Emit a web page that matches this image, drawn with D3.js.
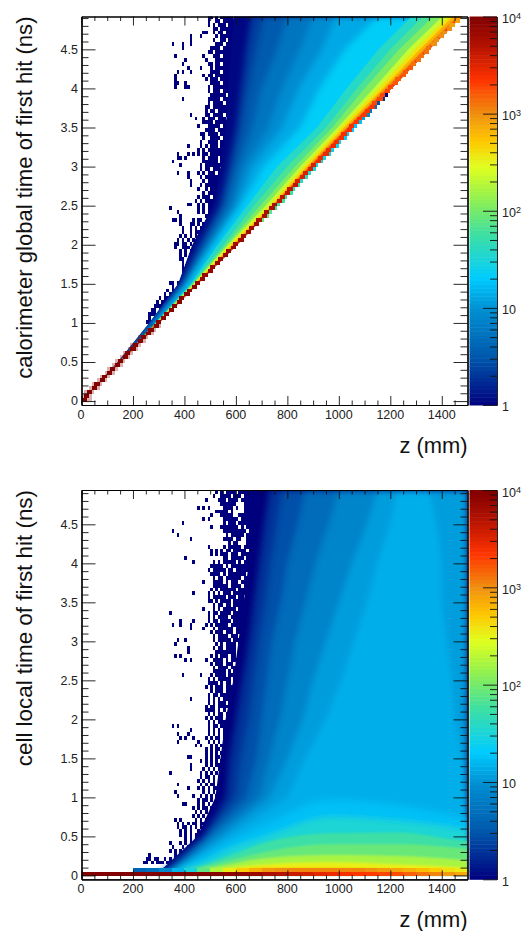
<!DOCTYPE html>
<html>
<head>
<meta charset="utf-8">
<script src="https://cdn.jsdelivr.net/npm/d3@7"></script>
<style>
body { margin: 0; background: #fff; }
svg { display: block; font-family: "Liberation Sans", sans-serif; }
</style>
</head>
<body>
<div id="chart"></div>
<script>
// colour palette, log10(count) -> colour
const paletteLog = [0, 0.5, 1, 1.31, 1.77, 2.12, 2.45, 2.72, 3, 3.35, 3.72, 4];
const paletteColors = ["#00007f", "#0058ac", "#0092d4", "#00ccff", "#40e0a0", "#90f050", "#e0ff20", "#ffc800", "#f09010", "#ff3300", "#b01000", "#7f0000"];

const zMajor = [0, 200, 400, 600, 800, 1000, 1200, 1400];
const zMinor = [50, 100, 150, 250, 300, 350, 450, 500, 550, 650, 700, 750, 850, 900, 950, 1050, 1100, 1150, 1250, 1300, 1350, 1450];
const tMajor = [0, 0.5, 1, 1.5, 2, 2.5, 3, 3.5, 4, 4.5];
const tMinor = [0.1, 0.2, 0.3, 0.4, 0.6, 0.7, 0.8, 0.9, 1.1, 1.2, 1.3, 1.4, 1.6, 1.7, 1.8, 1.9, 2.1, 2.2, 2.3, 2.4, 2.6, 2.7, 2.8, 2.9, 3.1, 3.2, 3.3, 3.4, 3.6, 3.7, 3.8, 3.9, 4.1, 4.2, 4.3, 4.4, 4.6, 4.7, 4.8, 4.9];
const barMajor = [1, 10, 100, 1000, 10000];
const barMinor = [2, 3, 4, 5, 6, 7, 8, 9, 20, 30, 40, 50, 60, 70, 80, 90, 200, 300, 400, 500, 600, 700, 800, 900, 2000, 3000, 4000, 5000, 6000, 7000, 8000, 9000];

// --- upper plot: z where the count climbs over each level, at each time
const globalTimes = [0, 0.5, 1, 1.5, 2, 2.5, 3, 3.5, 4, 4.5, 4.93];
const globalEdge = [0, 153, 303, 453, 606, 753, 903, 1053, 1206, 1353, 1482];
const globalLevels = [1, 2, 3, 5, 8, 12, 20, 35, 60, 100, 200, 350, 600, 1000, 2000];
const globalLeft = [
    [0, 140, 262, 375, 430, 510, 540, 560, 570, 580, 590],
    [0, 142, 268, 385, 455, 535, 570, 600, 620, 640, 660],
    [0, 143, 271, 390, 470, 550, 590, 625, 650, 680, 710],
    [0, 144, 274, 395, 486, 570, 610, 665, 700, 760, 800],
    [0, 145, 277, 403, 497, 590, 635, 725, 780, 850, 900],
    [0, 145, 280, 410, 506, 605, 665, 780, 845, 935, 990],
    [0, 146, 283, 417, 515, 620, 710, 850, 925, 1025, 1155],
    [0, 146, 286, 425, 530, 645, 760, 915, 1030, 1155, 1285],
    [0, 147, 288, 430, 552, 670, 800, 950, 1070, 1200, 1330],
    [0, 147, 290, 433, 562, 695, 830, 975, 1100, 1235, 1370],
    [0, 148, 291, 436, 570, 715, 850, 995, 1135, 1270, 1405],
    [0, 148, 292, 440, 577, 730, 865, 1008, 1155, 1295, 1430],
    [0, 148, 293, 442, 585, 738, 875, 1020, 1170, 1315, 1445],
    [0, 149, 295, 444, 592, 742, 882, 1030, 1180, 1330, 1460],
    [0, 149, 296, 446, 598, 745, 888, 1036, 1190, 1340, 1470]
];

// the ridge: first 10 mm bin of the peak in each 0.05 ns row, its count, and the faint cell to its right
const ridgeCol = [0, 1, 2, 4, 5, 7, 8, 10, 11, 13, 14, 16, 17, 19, 20, 22, 23, 25, 26, 28, 29, 31, 32, 34, 35, 37, 38, 40, 41, 43, 44, 46, 47, 49, 50, 52, 53, 55, 56, 58, 59, 61, 62, 64, 65, 67, 68, 70, 71, 73, 74, 76, 77, 79, 80, 82, 83, 85, 86, 88, 89, 91, 92, 94, 95, 97, 98, 100, 101, 103, 104, 106, 107, 109, 110, 112, 113, 115, 116, 118, 119, 121, 122, 124, 125, 127, 128, 130, 131, 133, 134, 136, 137, 139, 140, 142, 143, 145, 146];
const ridgePeak = [9500, 9500, 9500, 9500, 9500, 9500, 9500, 9500, 9500, 9500, 9000, 9000, 9000, 9000, 9000, 9000, 9000, 9000, 9000, 9000, 8500, 8500, 8500, 8500, 8500, 8500, 8500, 8500, 8500, 8500, 7500, 7500, 7500, 7500, 7500, 7500, 7500, 7500, 7500, 7500, 6500, 6500, 6500, 6500, 6500, 6500, 5500, 5500, 5500, 5500, 5500, 4500, 4500, 4500, 4500, 4500, 3500, 3500, 3500, 3500, 3500, 2800, 2800, 2800, 2800, 2800, 2500, 2500, 2500, 2500, 2500, 2200, 2200, 2200, 2200, 2200, 1900, 1900, 1900, 1900, 1900, 1600, 1600, 1600, 1600, 1600, 1300, 1300, 1300, 1300, 1300, 1000, 1000, 1000, 1000, 1000, 800, 800, 800];
const ridgeFaint = [0, 0, 0, 0, 0, 0, 0, 0, 0, 0, 0, 0, 0, 0, 0, 0, 0, 0, 0, 0, 0, 0, 0, 0, 0, 0, 0, 0, 0, 0, 0, 0, 0, 0, 0, 0, 0, 0, 0, 0, 0, 0, 0, 0, 0, 0, 90, 80, 70, 60, 60, 60, 60, 50, 50, 50, 40, 40, 40, 30, 30, 30, 30, 30, 25, 25, 25, 20, 20, 20, 18, 18, 12, 8, 6, 5, 3, 2, 1];

// single occupied bins left of the solid body, one string per row, from row 98 downward
const globalFringeStart = 98, globalFringeCol = 34;
const globalFringe = [
    "...............11.1.11111", "...............1..11.1111", "...............1.1.111.11", ".................11.11111",
    ".............11..1.11.111", "........1...1.....1.11111", "........1........1..11.11", ".1...1..1.........111.111",
    ".....1..........1111.1111", "...............11.1111111", "..1..........1...111.1111", "......1.......1...1111111",
    ".....1.........11.11.1111", ".......1....1...1.1111111", "...1.1..1.......1111.1111", "..1..........1.11.1111111",
    "..1...........1.111.11111", "..11..1.........1111.1111", "..1...11.......1.11111111", "...............1.111.1111",
    "................111111.11", ".....1.........11111.1111", "...............1.1111.111", "..............11.11111111",
    "..............1.11.111111", "........1.....11.1111.111", "..........1..1.111.111.11", ".............1111.1111111",
    "...........1...11111.1111", "..............1111.111111", "............11.1111.11111", ".............1..1111.1111",
    "............1..1111.11111", ".......1....1.1.111.11111", "...........1.1.111111.111", "...1...1.1.1.11.111111111",
    "...11.1......1.1111.11111", ".1...........111111.11111", "....1.......1.1111111.111", "............1.11.111.1111",
    "...1...1...1.1.111.111111", ".......1....1.11111111111", "........1....1.1111111111", "........1...1.11111.11111",
    "...........1..1.111111111", ".............1.1111111111", "...........1.111.11111111", "..........1.1.11111.11111",
    ".......11..1.1.1111111111", "1..........1.1.1111111111", "...1.......1.1.1111111111", "....1.........11111111111",
    ".11.1....1.11..1111111111", "....1...11.1.111111111111", ".....1..1.1.1.11111111111", ".....1..1.11.111111111111",
    "....1.1.1.1.1111111111111", "...1.1.1.1.11.11111", "..11.11.1.1.1.111", "..1..111.11.11",
    "....1.1.1.111", "....1.1.1.1", "....11..11.1", ".....1.11.1", ".....1..11"
];
const globalFringeLowStart = 33, globalFringeLowCol = 20;
const globalFringeLow = [
    "...................1.11", "...................1.11", "...................11", "..............11.1.11",
    "...............1.1.11", ".............1.111", "............1.11", "..........1.111",
    ".........1.111", "........1111", ".......11.1", "......111", "......1.1", ".....111"
];

// --- lower plot: low counts as z(t) edges, high counts as t(z) edges
const localTimes = [0.05, 0.1, 0.5, 1, 1.5, 2, 2.5, 3, 3.5, 4, 4.5, 4.94];
const localLevels = [1, 2, 3, 5, 8, 12, 15];
const localLeft = [
    [280, 320, 450, 520, 540, 560, 590, 610, 630, 650, 660, 670],
    [300, 335, 470, 560, 575, 600, 625, 650, 670, 690, 710, 730],
    [310, 345, 480, 600, 620, 650, 670, 690, 715, 735, 760, 780],
    [330, 360, 490, 640, 680, 700, 720, 740, 775, 800, 840, 870],
    [345, 370, 510, 690, 730, 770, 800, 830, 870, 910, 960, 1000],
    [360, 380, 540, 730, 800, 860, 900, 950, 1000, 1050, 1110, 1150],
    [370, 390, 570, 800, 870, 950, 1010, 1060, 1110, 1150, 1200, 1230]
];
const localRight = [1500, 1500, 1500, 1500, 1480, 1450, 1440, 1420, 1400, 1400, 1380, 1350];

const localZ = [190, 250, 350, 470, 590, 713, 970, 1231, 1470, 1500];
const localUpper = [16, 30, 50, 80, 150, 300, 500];
const localTop = [
    [0, 0.02, 0.06, 0.23, 0.45, 0.65, 0.97, 0.9, 0.75, 0.72],
    [0, 0, 0.05, 0.17, 0.36, 0.5, 0.75, 0.7, 0.6, 0.58],
    [0, 0, 0.04, 0.13, 0.27, 0.42, 0.54, 0.55, 0.45, 0.44],
    [0, 0, 0.02, 0.1, 0.2, 0.3, 0.4, 0.4, 0.35, 0.34],
    [0, 0, 0, 0.08, 0.15, 0.22, 0.26, 0.25, 0.2, 0.19],
    [0, 0, 0, 0.05, 0.1, 0.14, 0.17, 0.14, 0.1, 0.09],
    [0, 0, 0, 0.04, 0.07, 0.1, 0.1, 0.08, 0.05, 0.05]
];
// two bottom rows, one count per 50 mm
const localRow0 = [9500, 9500, 9500, 9500, 9500, 9500, 9500, 9500, 9500, 9500, 9000, 8500, 8000, 7000, 5500, 5000, 4000, 3500, 3000, 2700, 2400, 2200, 2100, 1900, 1800, 1500, 1300, 1100, 900, 750];
const localRow1 = [0, 0, 0, 0, 4, 5, 8, 15, 30, 80, 180, 350, 500, 700, 900, 1000, 1100, 1100, 1100, 1100, 1100, 1100, 1000, 900, 800, 700, 600, 500, 400, 350];

const localFringeStart = 98, localFringeCol = 34;
const localFringe = [
    "..................1.1.1111.11111111", ".................1..1111.111.11111", "..............1....111.1111.1111111", "....................111111...111111",
    "...........1.1.1.....1111.1..111111", "..................11111.1....111111", "................1...11111..11111111", ".............1.1.....111111.1111111",
    ".....1...............1.111.11111111", "................1...1111111.1.11111", ".1...................111111111.1111", "...1..................1.11111.11111",
    "........1............1111.11..11111", ".......................1.11...11111", "...............1.....1.11111.111111", "................1.1.1.11.11111.1111",
    "................1.1.111.111.1111111", "......1..............11.11111.11111", ".........1.......1.1.11111.1.111111", "................11111.1.1111111.111",
    "...............1.11111.11.111111111", "................1111.1.1111111.1111", ".................1.11.111111.111111", ".............1...1111.1.111.1111111",
    ".................111111.1111.111111", "................1.1.111111.11111111", ".........1.....1.1.1.111.1111111111", "...............1.11111.111.11.11111",
    "...............11.1.1111.111111.111", ".................1.11.11.1111111111", ".............1...1.1.11111.11111111", "1..............1.11.1111.111111.111",
    "...............1.1.1111.1111111.111", "....1....1.....1.11.1111.1111111111", ".1..1...1.....1.1.11111.11111111111", "........1....1...1.111111.111111111",
    "................1.111.111.111.11111", ".................1.1111.111.1.11111", "...1..1..........1.11111.1111.11111", "..1...............1.1.1111.11111111",
    ".......1.........1.11.1111.11111111", ".......1..........11111111.1.111111", "..1.1...........1.1.111.11.11111111", "......1.1.....1..1111.1.1111.111111",
    "................1.111.111.1.1111111", ".................1.1111.111.1111111", ".................11111.1.11.11111111", ".....1......1...1.1111.111.1.111111",
    "...............1.1.11111.111111.111", "...............1111.1.11.1111111111", "..............1.1.111.111.111111111", "................1.111.111111.111111",
    "...............1.11.1111111.1111111", "........1......1.1.1.111.1111111111", "...............1.1.111.11111.111111", "..............1.11.11111.1111111111",
    "..............1111.1.1.111111111111", "...............1.1.11.1111111111111", "..............1.1.111.111.111111111", "...............1.1.1111.11111111111",
    ".1.1...........1.11.111.11111111111", "........1......1.1.1.11.11111111111", "...1...1.......1.1.1.1.111111111111", "....1.1..1....1.1.11.1.111111111111",
    "...1.......1...1.1.1.11111111111111", "..........1.1...1.1.11.111111111111", "..............1.1.11.11111111111111", "..............1.1.1.1.1111111111111",
    ".......11.....1.1.11.11111111111111", "............1.1.1.1.111111111111111", "........1.....1.1.11.11111111111111", "........1....1.1.1.1111111111111111",
    "1...........1.1.1.1.111111111111111", "............1.11.1.1111111111111111", "...........1.1.1.1.1111111111111111", "...1........1.1.11.11111111111111",
    ".......1...1.1.1.11111111111111", "..1..........1.1.1.1.1111111111", "...1.....1..1.1.1.1111111111111", "...........1.11.1.111111111111",
    ".....11....1.1.1.1.111111111111", ".........1.1.11.1.11111111111", "..........1.1.1.11.1111111111", ".........1.1.1.1.1.111111111",
    "..1.1.....1.1.1.11.1111111111", "...1.1.1.11.11.1.1111111111", "...1.11.1.1.1.1.1111111111", "....1.1.1..1.1.11.11111111"
];
const localFringeLowStart = 10, localFringeLowCol = 24;
const localFringeLow = [
    "..............1.1.1.111.1.1111", "................1.1.11.1.11111", "..........1...1.1.1.1.11.11111", "...........1...1.1.111.111111",
    "..........1.1.1.1.1.11.1111111", "..1.........1.1.111.1.11111111", ".11.11..1.1.11.1.1111111111", "11.1.111.11.111.11111111"
];

const W = 525, H = 931;
const svg = d3.select("#chart").append("svg").attr("width", W).attr("height", H);

const x = d3.scaleLinear().domain([0, 1500]).range([81.5, 467.5]);
const color = d3.scaleLinear().domain(paletteLog).range(paletteColors).interpolate(d3.interpolateRgb);
const countColor = c => color(Math.log10(c));

// soft edges between the count bands
const defs = svg.append("defs");
[["soft1", 0.7], ["soft2", 1.3], ["soft3", 3]].forEach(f => {
    defs.append("filter").attr("id", f[0])
        .attr("x", "-5%").attr("y", "-5%").attr("width", "110%").attr("height", "110%")
      .append("feGaussianBlur").attr("stdDeviation", f[1]);
});

// occupied bins from the row strings
function fringeCells(rows, startRow, startCol) {
    let cells = [];
    rows.forEach((s, i) => {
        s.split("").forEach((ch, j) => {
            if (ch !== ".") cells.push({ row: startRow - i, col: startCol + j, count: +ch });
        });
    });
    return cells;
}

function drawFrame(o) {
    let y = o.y, top = o.top, bottom = o.bottom;
    let g = svg.append("g");

    // ticks, mirrored on all four sides
    const noLabel = a => a.tickFormat("").tickSizeOuter(0);
    g.append("g").attr("transform", `translate(0,${bottom})`).call(noLabel(d3.axisTop(x).tickValues(zMajor).tickSize(9)));
    g.append("g").attr("transform", `translate(0,${bottom})`).call(noLabel(d3.axisTop(x).tickValues(zMinor).tickSize(4.5)));
    g.append("g").attr("transform", `translate(0,${top})`).call(noLabel(d3.axisBottom(x).tickValues(zMajor).tickSize(9)));
    g.append("g").attr("transform", `translate(0,${top})`).call(noLabel(d3.axisBottom(x).tickValues(zMinor).tickSize(4.5)));
    g.append("g").attr("transform", `translate(${x(0)},0)`).call(noLabel(d3.axisRight(y).tickValues(tMajor).tickSize(14)));
    g.append("g").attr("transform", `translate(${x(0)},0)`).call(noLabel(d3.axisRight(y).tickValues(tMinor).tickSize(7)));
    g.append("g").attr("transform", `translate(${x(1500)},0)`).call(noLabel(d3.axisLeft(y).tickValues(tMajor).tickSize(14)));
    g.append("g").attr("transform", `translate(${x(1500)},0)`).call(noLabel(d3.axisLeft(y).tickValues(tMinor).tickSize(7)));
    g.selectAll("line").attr("stroke", "#111").attr("stroke-width", 0.9);
    g.selectAll(".domain").attr("stroke", "#000").attr("stroke-width", 1.2);

    // tick labels
    svg.append("g").selectAll("text").data(zMajor).join("text")
        .attr("x", d => x(d) - (d === 0 ? 0.5 : 0))
        .attr("y", bottom + 14)
        .attr("text-anchor", "middle")
        .attr("font-size", 12.5)
        .attr("fill", "#222")
        .text(d => d);
    svg.append("g").selectAll("text").data(tMajor).join("text")
        .attr("x", 78)
        .attr("y", d => y(d))
        .attr("dy", "0.35em")
        .attr("text-anchor", "end")
        .attr("font-size", 12.5)
        .attr("fill", "#222")
        .text(d => d);

    svg.append("text")
        .attr("x", 467.5)
        .attr("y", bottom + 48)
        .attr("text-anchor", "end")
        .attr("font-size", 21.9)
        .attr("fill", "#111")
        .text("z (mm)");
    svg.append("text")
        .attr("transform", `translate(32,${top}) rotate(-90)`)
        .attr("text-anchor", "end")
        .attr("font-size", o.titleSize)
        .attr("fill", "#111")
        .text(o.title);

    // colour bar
    let bar = d3.scaleLog().domain([1, 10000]).range([bottom, top]);
    let barX = 469.5, barW = 27.5, steps = d3.range(0, 100).map(i => i * 0.04);
    svg.append("g").selectAll("rect").data(steps).join("rect")
        .attr("x", barX)
        .attr("width", barW)
        .attr("y", d => bar(Math.pow(10, d + 0.04)))
        .attr("height", d => bar(Math.pow(10, d)) - bar(Math.pow(10, d + 0.04)) + 0.5)
        .attr("fill", d => color(d + 0.02));
    let b = svg.append("g");
    b.append("g").attr("transform", `translate(${barX + barW},0)`).call(d3.axisLeft(bar).tickValues(barMajor).tickSize(14).tickFormat("").tickSizeOuter(0));
    b.append("g").attr("transform", `translate(${barX + barW},0)`).call(d3.axisLeft(bar).tickValues(barMinor).tickSize(7).tickFormat("").tickSizeOuter(0));
    b.selectAll("line").attr("stroke", "#111").attr("stroke-width", 0.9);
    b.selectAll(".domain").attr("stroke", "#222");

    let labels = svg.append("g").selectAll("text").data(barMajor).join("text")
        .attr("x", 502)
        .attr("y", d => bar(d) + (d === 10000 ? 2.5 : 2))
        .attr("dy", "0.35em")
        .attr("font-size", 12.5)
        .attr("fill", "#222");
    labels.append("tspan").text(d => d === 1 ? "1" : "10");
    labels.filter(d => d > 10).append("tspan")
        .attr("dy", "-0.45em")
        .attr("font-size", 9)
        .text(d => Math.log10(d));
}

function plotGroup(id, top, bottom) {
    svg.append("clipPath").attr("id", id).append("rect")
        .attr("x", x(0)).attr("y", top).attr("width", x(1500) - x(0)).attr("height", bottom - top);
    return svg.append("g").attr("clip-path", `url(#${id})`);
}

function drawCells(g, y, cells, opacity=1) {
    g.append("g").attr("shape-rendering", "crispEdges").attr("opacity", opacity).selectAll("rect").data(cells).join("rect")
        .attr("x", d => x(d.col * 10))
        .attr("width", d => x((d.col + (d.span || 1)) * 10) - x(d.col * 10))
        .attr("y", d => y((d.row + 1) * 0.05 - 0.01))
        .attr("height", d => y(d.row * 0.05 - 0.01) - y((d.row + 1) * 0.05 - 0.01))
        .attr("fill", d => countColor(d.count));
}

// upper plot
function drawGlobal() {
    let top = 16.5, bottom = 405;
    let y = d3.scaleLinear().domain([-0.05, 4.92]).range([bottom, top]);
    let g = plotGroup("clip-global", top, bottom);

    drawCells(g, y, fringeCells(globalFringe, globalFringeStart, globalFringeCol)
        .concat(fringeCells(globalFringeLow, globalFringeLowStart, globalFringeLowCol)));

    let band = d3.area().y((d, i) => y(globalTimes[i])).x0(d => x(d)).x1((d, i) => x(globalEdge[i]));
    const fillLevel = d => countColor(globalLevels[globalLeft.indexOf(d)] * 1.1);

    // keep the soft bands inside the ridge edge
    svg.append("clipPath").attr("id", "clip-fan").append("path")
        .attr("d", band(globalLeft[0]));
    let fan = g.append("g").attr("clip-path", "url(#clip-fan)");
    fan.append("path").datum(globalLeft[0]).attr("d", band).attr("fill", fillLevel);
    fan.append("g").attr("filter", "url(#soft3)").selectAll("path").data(globalLeft.slice(1, 7)).join("path")
        .attr("d", band).attr("fill", fillLevel);
    fan.append("g").attr("filter", "url(#soft1)").selectAll("path").data(globalLeft.slice(7)).join("path")
        .attr("d", band).attr("fill", fillLevel);

    // peak row by row, with a pale halo where the peak is darkest
    let ridge = ridgeCol.map((c, r) => ({ row: r, col: c, span: 2, count: ridgePeak[r] }));
    let faint = ridgeCol.map((c, r) => ({ row: r, col: c + 2, count: ridgeFaint[r] })).filter(d => d.count > 0);
    let halo = ridgeCol.slice(0, 20).map((c, r) => ({ row: r, col: Math.max(c - 1, 0), span: 4, count: ridgePeak[r] }));
    drawCells(g, y, halo, 0.3);
    drawCells(g, y, faint.concat(ridge));

    drawFrame({ y: y, top: top, bottom: bottom, titleSize: 22.1, title: "calorimeter global time of first hit (ns)" });
}

// lower plot
function drawLocal() {
    let top = 490, bottom = 879.3;
    let y = d3.scaleLinear().domain([-0.05, 4.94]).range([bottom, top]);
    let g = plotGroup("clip-local", top, y(-0.01));

    drawCells(g, y, fringeCells(localFringe, localFringeStart, localFringeCol)
        .concat(fringeCells(localFringeLow, localFringeLowStart, localFringeLowCol)));

    let band = d3.area().y((d, i) => y(localTimes[i])).x0(d => x(d));
    let bandPath = d => {
        let last = localLeft.indexOf(d) === localLevels.length - 1;
        return band.x1((v, i) => x(last ? localRight[i] : 1500))(d);
    };
    const fillLevel = d => countColor(localLevels[localLeft.indexOf(d)] * 0.95);
    g.append("path").datum(localLeft[0]).attr("d", bandPath).attr("fill", fillLevel);
    g.append("g").attr("filter", "url(#soft3)").selectAll("path").data(localLeft.slice(1)).join("path")
        .attr("d", bandPath).attr("fill", fillLevel);

    let hill = d3.area().x((d, i) => x(localZ[i])).y0(y(0)).y1(d => y(d)).curve(d3.curveMonotoneX);
    g.append("g").attr("filter", "url(#soft3)").selectAll("path").data(localTop.slice(0, 2)).join("path")
        .attr("d", hill)
        .attr("fill", d => countColor(localUpper[localTop.indexOf(d)] * 1.1));
    g.append("g").attr("filter", "url(#soft2)").selectAll("path").data(localTop.slice(2)).join("path")
        .attr("d", hill)
        .attr("fill", d => countColor(localUpper[localTop.indexOf(d)] * 1.1));

    let rowCells = (values, row) => values.map((c, i) => ({ row: row, col: i * 5, span: 5, count: c })).filter(d => d.count > 0);
    drawCells(g, y, rowCells(localRow1, 1).concat(rowCells(localRow0, 0)));

    drawFrame({ y: y, top: top, bottom: bottom, titleSize: 22.4, title: "cell local time of first hit (ns)" });
}

drawGlobal();
drawLocal();
</script>
</body>
</html>
